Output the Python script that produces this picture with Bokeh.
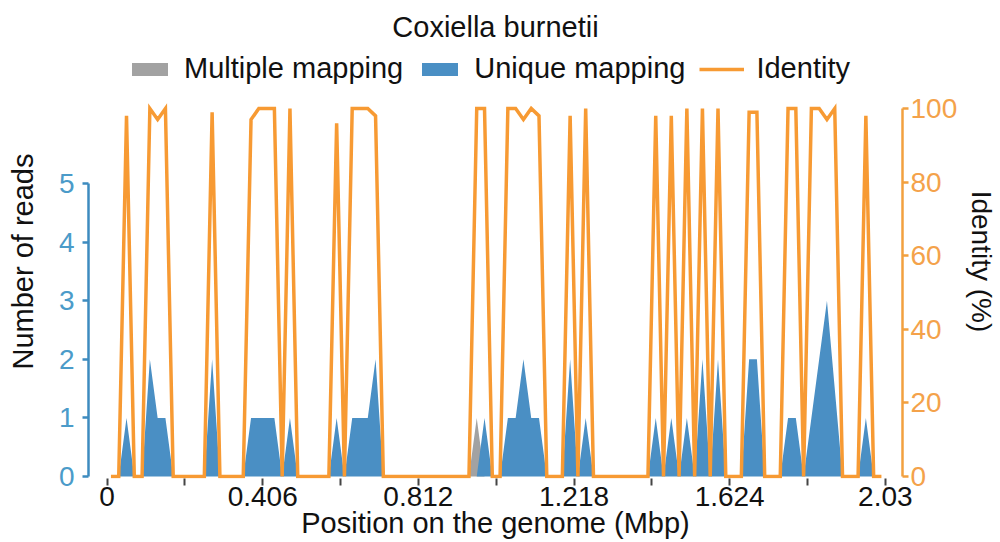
from bokeh.plotting import figure
from bokeh.models import Range1d, LinearAxis, FixedTicker, Legend, LegendItem
from bokeh.embed import file_html
from bokeh.resources import INLINE

# ---------------- data ----------------
bin_size_mbp = 0.0203
position_mbp = [round((i + 0.5) * bin_size_mbp, 5) for i in range(100)]

identity_pct = [
    0, 0, 98, 0, 0, 100, 97, 100, 0, 0,
    0, 0, 0, 99, 0, 0, 0, 0, 97, 100,
    100, 100, 0, 100, 0, 0, 0, 0, 0, 96,
    0, 100, 100, 100, 98, 0, 0, 0, 0, 0,
    0, 0, 0, 0, 0, 0, 0, 100, 100, 0,
    0, 100, 100, 97, 100, 98, 0, 0, 0, 98,
    0, 100, 0, 0, 0, 0, 0, 0, 0, 0,
    98, 0, 98, 0, 100, 0, 100, 0, 100, 0,
    0, 0, 99, 99, 0, 0, 0, 100, 100, 0,
    100, 100, 97, 100, 0, 0, 0, 98, 0, 0,
]

unique_reads = [
    0, 0, 1, 0, 0, 2, 1, 1, 0, 0,
    0, 0, 0, 2, 0, 0, 0, 0, 1, 1,
    1, 1, 0, 1, 0, 0, 0, 0, 0, 1,
    0, 1, 1, 1, 2, 0, 0, 0, 0, 0,
    0, 0, 0, 0, 0, 0, 0, 0, 1, 0,
    0, 1, 1, 2, 1, 1, 0, 0, 0, 2,
    0, 1, 0, 0, 0, 0, 0, 0, 0, 0,
    1, 0, 1, 0, 1, 0, 2, 0, 2, 0,
    0, 0, 2, 2, 0, 0, 0, 1, 1, 0,
    1, 2, 3, 1.5, 0, 0, 0, 1, 0, 0,
]

multiple_reads = [
    0, 0, 0, 0, 0, 0, 0, 0, 0, 0,
    0, 0, 0, 0, 0, 0, 0, 0, 0, 0,
    0, 0, 0, 0, 0, 0, 0, 0, 0, 0,
    0, 0, 0, 0, 0, 0, 0, 0, 0, 0,
    0, 0, 0, 0, 0, 0, 0, 1, 0, 0,
    0, 0, 0, 0, 0, 0, 0, 0, 0, 0,
    0, 0, 0, 0, 0, 0, 0, 0, 0, 0,
    0, 0, 0, 0, 0, 0, 0, 0, 0, 0,
    0, 0, 0, 0, 0, 0, 0, 0, 0, 0,
    0, 0, 0, 0, 0, 0, 0, 0, 0, 0,
]

x_ticks = [0, 0.203, 0.406, 0.609, 0.812, 1.015, 1.218, 1.421, 1.624, 1.827, 2.03]
x_tick_labels = ["0", "", "0.406", "", "0.812", "", "1.218", "", "1.624", "", "2.03"]
reads_ticks = [0, 1, 2, 3, 4, 5]
identity_ticks = [0, 20, 40, 60, 80, 100]

# ---------------- style ----------------
FONT = "Liberation Sans"
BLUE = "#4a8fc4"
BLUE_AXIS = "#3d8bbf"
BLUE_LABEL = "#4b9bc9"
GREY = "#a2a2a2"
ORANGE = "#f79a33"
ORANGE_AXIS = "#f2a03f"
ORANGE_LABEL = "#f4a24a"

p = figure(
    width=1000, height=542,
    output_backend="svg", toolbar_location=None,
    x_range=Range1d(-0.0484, 2.0748),
    y_range=Range1d(-0.034, 7.372),
    min_border_left=88, min_border_right=92,
    min_border_top=44, min_border_bottom=64,
)
p.outline_line_color = None
p.grid.visible = False
p.background_fill_color = "white"

p.extra_y_ranges = {"identity": Range1d(-0.543, 117.4)}

r_multi = p.varea(x=position_mbp, y1=[0] * len(position_mbp), y2=multiple_reads,
                  fill_color=GREY, fill_alpha=1.0)
r_uni = p.varea(x=position_mbp, y1=[0] * len(position_mbp), y2=unique_reads,
                fill_color=BLUE, fill_alpha=1.0)
r_id = p.line(x=position_mbp, y=identity_pct, y_range_name="identity",
              line_color=ORANGE, line_width=3.5, line_join="miter")

# ---------------- x axis ----------------
xa = p.xaxis[0]
xa.ticker = FixedTicker(ticks=x_ticks)
xa.major_label_overrides = {t: l for t, l in zip(x_ticks, x_tick_labels)}
xa.axis_line_color = None
xa.major_tick_line_color = "#444444"
xa.major_tick_line_width = 2
xa.major_tick_out = 7
xa.major_tick_in = 0
xa.minor_tick_line_color = None
xa.major_label_text_font = FONT
xa.major_label_text_font_size = "28px"
xa.major_label_text_color = "#111111"
xa.major_label_standoff = 1
xa.axis_label = "Position on the genome (Mbp)"
xa.axis_label_text_font = FONT
xa.axis_label_text_font_size = "29px"
xa.axis_label_text_font_style = "normal"
xa.axis_label_text_color = "#111111"
xa.axis_label_standoff = -2

# ---------------- left axis ----------------
ya = p.yaxis[0]
ya.ticker = FixedTicker(ticks=reads_ticks)
ya.bounds = (0, 5)
ya.axis_line_color = BLUE_AXIS
ya.axis_line_width = 2.5
ya.major_tick_line_color = BLUE_AXIS
ya.major_tick_line_width = 2.5
ya.major_tick_out = 6
ya.major_tick_in = 0
ya.minor_tick_line_color = None
ya.major_label_text_font = FONT
ya.major_label_text_font_size = "28px"
ya.major_label_text_color = BLUE_LABEL
ya.major_label_standoff = 8
ya.axis_label = "Number of reads"
ya.axis_label_text_font = FONT
ya.axis_label_text_font_size = "29px"
ya.axis_label_text_font_style = "normal"
ya.axis_label_text_color = "#111111"
ya.axis_label_standoff = 17

# ---------------- right axis ----------------
ra = LinearAxis(y_range_name="identity")
ra.ticker = FixedTicker(ticks=identity_ticks)
ra.bounds = (0, 100)
ra.axis_line_color = ORANGE_AXIS
ra.axis_line_width = 2.5
ra.major_tick_line_color = ORANGE_AXIS
ra.major_tick_line_width = 2.5
ra.major_tick_out = 6
ra.major_tick_in = 0
ra.minor_tick_line_color = None
ra.major_label_text_font = FONT
ra.major_label_text_font_size = "28px"
ra.major_label_text_color = ORANGE_LABEL
ra.major_label_standoff = 2
ra.axis_label = "Identity (%)"
ra.axis_label_text_font = FONT
ra.axis_label_text_font_size = "28px"
ra.axis_label_text_font_style = "normal"
ra.axis_label_text_color = "#111111"
ra.axis_label_standoff = 6
p.add_layout(ra, "right")

# ---------------- title & legend ----------------
p.title.text = "Coxiella burnetii"
p.title.align = "center"
p.title.text_font = FONT
p.title.text_font_size = "29px"
p.title.text_font_style = "normal"
p.title.text_color = "#111111"
p.title.standoff = 4

legend = Legend(
    items=[
        LegendItem(label="Multiple mapping", renderers=[r_multi]),
        LegendItem(label="Unique mapping", renderers=[r_uni]),
        LegendItem(label="Identity", renderers=[r_id]),
    ],
    orientation="horizontal",
    location=(39, 393),
    border_line_color=None,
    background_fill_alpha=0,
    label_text_font=FONT,
    label_text_font_size="29px",
    label_text_color="#111111",
    glyph_width=45,
    glyph_height=16,
    label_standoff=12,
    spacing=14,
    padding=0,
    margin=0,
)
p.add_layout(legend, "center")

open("out.html", "w").write(file_html(p, INLINE))
